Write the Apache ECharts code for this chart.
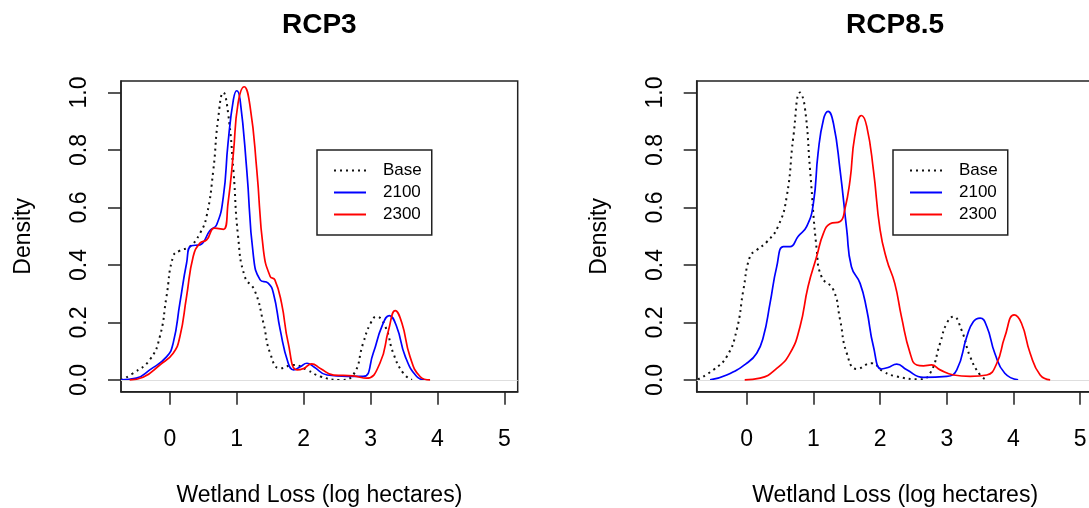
<!DOCTYPE html>
<html>
<head>
<meta charset="utf-8">
<script src="https://cdn.jsdelivr.net/npm/echarts@6/dist/echarts.min.js"></script>
<style>
html,body{margin:0;padding:0;background:#fff;}
#c{width:1089px;height:508px;}
</style>
</head>
<body>
<div id="c"></div>
<script>
// ---- data (x = log hectares, y = density) ----
var panelTitles = ['RCP3', 'RCP8.5'];
var seriesNames = ['Base', '2100', '2300'];
var xTicks = [0, 1, 2, 3, 4, 5];
var yTicks = [0, 0.2, 0.4, 0.6, 0.8, 1.0];
var yTickLabels = ['0.0', '0.2', '0.4', '0.6', '0.8', '1.0'];

var rcp3Base = [[-0.73,0],[-0.55,0.023],[-0.30,0.07],[-0.15,0.15],[-0.05,0.29],[0.05,0.43],[0.15,0.45],[0.30,0.464],[0.45,0.51],[0.55,0.57],[0.65,0.73],[0.72,0.905],[0.80,1.0],[0.87,0.93],[0.95,0.73],[1.02,0.50],[1.12,0.36],[1.27,0.31],[1.40,0.197],[1.50,0.093],[1.65,0.04],[1.85,0.052],[2.05,0.035],[2.25,0.012],[2.55,0.0],[2.74,0.017],[2.89,0.128],[3.0,0.197],[3.09,0.22],[3.22,0.186],[3.34,0.093],[3.49,0.023],[3.62,0]];
var rcp3Y2100 = [[-0.73,0],[-0.50,0.006],[-0.30,0.035],[-0.05,0.08],[0.05,0.128],[0.15,0.267],[0.25,0.406],[0.32,0.467],[0.45,0.47],[0.60,0.52],[0.70,0.54],[0.80,0.638],[0.87,0.824],[0.95,0.975],[1.0,1.006],[1.05,0.975],[1.15,0.73],[1.25,0.43],[1.35,0.348],[1.47,0.337],[1.55,0.30],[1.65,0.174],[1.77,0.058],[1.85,0.035],[1.95,0.046],[2.05,0.058],[2.15,0.046],[2.35,0.017],[2.65,0.012],[2.89,0.012],[3.04,0.093],[3.17,0.186],[3.28,0.224],[3.39,0.186],[3.52,0.081],[3.69,0.012],[3.82,0]];
var rcp3Y2300 = [[-0.60,0],[-0.40,0.009],[-0.15,0.052],[0.05,0.093],[0.15,0.15],[0.25,0.29],[0.35,0.43],[0.45,0.476],[0.55,0.487],[0.67,0.528],[0.80,0.524],[0.87,0.615],[0.95,0.789],[1.02,0.963],[1.11,1.02],[1.20,0.951],[1.30,0.73],[1.40,0.45],[1.50,0.36],[1.57,0.348],[1.67,0.267],[1.77,0.128],[1.90,0.035],[2.0,0.04],[2.12,0.056],[2.25,0.04],[2.45,0.017],[2.74,0.014],[2.94,0.006],[3.14,0.058],[3.27,0.174],[3.37,0.241],[3.47,0.197],[3.59,0.081],[3.74,0.012],[3.89,0]];

var rcp85Base = [[-0.73,0.002],[-0.50,0.035],[-0.30,0.081],[-0.15,0.174],[-0.05,0.313],[0.05,0.43],[0.15,0.452],[0.30,0.48],[0.47,0.534],[0.60,0.638],[0.70,0.847],[0.80,1.0],[0.87,0.951],[0.95,0.73],[1.05,0.452],[1.12,0.36],[1.30,0.313],[1.40,0.209],[1.50,0.093],[1.65,0.038],[1.87,0.058],[2.05,0.029],[2.25,0.012],[2.60,0.002],[2.75,0.023],[2.90,0.128],[3.0,0.197],[3.10,0.22],[3.22,0.174],[3.35,0.081],[3.50,0.017],[3.60,0]];
var rcp85Y2100 = [[-0.55,0],[-0.30,0.017],[0.0,0.058],[0.15,0.093],[0.25,0.15],[0.35,0.267],[0.45,0.394],[0.55,0.464],[0.65,0.464],[0.77,0.499],[0.90,0.534],[1.0,0.615],[1.07,0.789],[1.15,0.905],[1.22,0.934],[1.30,0.893],[1.40,0.73],[1.50,0.522],[1.57,0.394],[1.70,0.336],[1.80,0.244],[1.90,0.116],[2.02,0.038],[2.12,0.043],[2.25,0.055],[2.40,0.035],[2.65,0.009],[3.0,0.012],[3.15,0.035],[3.30,0.15],[3.40,0.203],[3.50,0.215],[3.60,0.186],[3.72,0.093],[3.87,0.023],[4.07,0]];
var rcp85Y2300 = [[-0.03,0],[0.20,0.006],[0.45,0.04],[0.65,0.093],[0.80,0.186],[0.92,0.325],[1.05,0.43],[1.15,0.51],[1.25,0.543],[1.40,0.551],[1.47,0.592],[1.55,0.696],[1.62,0.847],[1.72,0.92],[1.80,0.882],[1.90,0.73],[2.0,0.522],[2.10,0.418],[2.22,0.336],[2.32,0.22],[2.45,0.093],[2.55,0.052],[2.65,0.049],[2.77,0.052],[2.90,0.035],[3.10,0.017],[3.35,0.012],[3.60,0.017],[3.75,0.058],[3.87,0.15],[4.01,0.226],[4.12,0.197],[4.25,0.093],[4.40,0.017],[4.55,0]];

var panelData = [[rcp3Base, rcp3Y2100, rcp3Y2300], [rcp85Base, rcp85Y2100, rcp85Y2300]];

// ---- styling / layout ----
var FONT = '"Liberation Sans", Arial, sans-serif';
var seriesColors = ['#111111', '#0000ff', '#ff0000'];
var grids = [
  {left: 121, top: 81, width: 396.7, height: 310.7},
  {left: 696.7, top: 81, width: 396.8, height: 310.7}
];
var xRanges = [[-0.73, 5.2], [-0.75, 5.2]];
var legendPos = [{left: 317, top: 150}, {left: 893, top: 150}];
var axisColor = '#222';

var option = {
  animation: false,
  backgroundColor: '#ffffff',
  title: [],
  grid: [],
  xAxis: [],
  yAxis: [],
  legend: [],
  series: []
};

for (var p = 0; p < 2; p++) {
  var g = grids[p];
  option.title.push({
    text: panelTitles[p],
    left: g.left + g.width / 2,
    top: 11,
    textAlign: 'center',
    padding: 0,
    textStyle: {fontFamily: FONT, fontSize: 28, fontWeight: 'bold', color: '#000'}
  });
  option.grid.push({
    left: g.left, top: g.top, width: g.width, height: g.height,
    show: true, borderColor: axisColor, borderWidth: 1.5,
    containLabel: false, outerBoundsMode: 'none'
  });
  option.xAxis.push({
    type: 'value', gridIndex: p, min: xRanges[p][0], max: xRanges[p][1],
    name: 'Wetland Loss (log hectares)', nameLocation: 'middle', nameGap: 92,
    nameTextStyle: {fontFamily: FONT, fontSize: 23, color: '#000'},
    nameMoveOverlap: false,
    axisLine: {show: true, onZero: false, lineStyle: {color: axisColor, width: 1.5}},
    splitLine: {show: false},
    axisTick: {show: true, length: 13, customValues: xTicks, lineStyle: {color: axisColor, width: 1.5}},
    axisLabel: {customValues: xTicks, margin: 36, hideOverlap: false, fontFamily: FONT, fontSize: 23, color: '#000'}
  });
  option.yAxis.push({
    type: 'value', gridIndex: p, min: -0.041, max: 1.04,
    name: 'Density', nameLocation: 'middle', nameGap: 86, nameRotate: 90,
    nameTextStyle: {fontFamily: FONT, fontSize: 23, color: '#000'},
    nameMoveOverlap: false,
    axisLine: {show: true, onZero: false, lineStyle: {color: axisColor, width: 1.5}},
    splitLine: {show: false},
    axisTick: {show: true, length: 13, customValues: yTicks, lineStyle: {color: axisColor, width: 1.5}},
    axisLabel: {customValues: yTicks, rotate: 90, margin: 30, hideOverlap: false, fontFamily: FONT, fontSize: 23, color: '#000',
      formatter: function (v) {
        var i = yTicks.indexOf(Math.round(v * 10) / 10);
        return i >= 0 ? yTickLabels[i] : v.toFixed(1);
      }}
  });
  option.legend.push({
    left: legendPos[p].left, top: legendPos[p].top, orient: 'vertical',
    data: seriesNames, selectedMode: false,
    itemWidth: 32, itemHeight: 17, itemGap: 5,
    padding: [12, 10, 12, 16],
    borderColor: axisColor, borderWidth: 1.5, backgroundColor: '#fff',
    itemStyle: {opacity: 0},
    textStyle: {fontFamily: FONT, fontSize: 17, color: '#000', padding: [0, 0, 0, 12]}
  });
  for (var s = 0; s < 3; s++) {
    var ser = {
      type: 'line', name: seriesNames[s], xAxisIndex: p, yAxisIndex: p,
      data: panelData[p][s], showSymbol: false, symbol: 'none',
      smooth: 0.5, z: 3 + s,
      lineStyle: {color: seriesColors[s], width: s === 0 ? 2 : 1.7, type: s === 0 ? [2, 4] : 'solid'},
      itemStyle: {color: seriesColors[s]}
    };
    if (s === 0) {
      ser.markLine = {
        silent: true, symbol: 'none', label: {show: false}, animation: false,
        lineStyle: {color: '#dedede', width: 1.2, type: 'solid'},
        data: [{yAxis: 0}]
      };
      ser.z = 2;
    }
    option.series.push(ser);
  }
}

var chart = echarts.init(document.getElementById('c'), null, {renderer: 'canvas'});
chart.setOption(option);
</script>
</body>
</html>
